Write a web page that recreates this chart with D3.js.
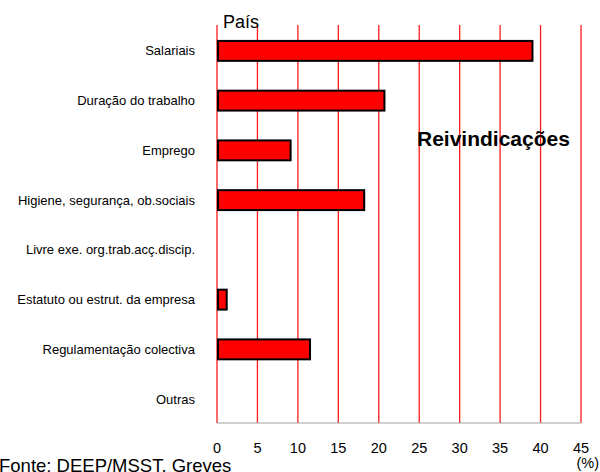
<!DOCTYPE html>
<html>
<head>
<meta charset="utf-8">
<script src="https://cdn.jsdelivr.net/npm/d3@7"></script>
<style>
  body { margin: 0; background: #fff; }
  svg { display: block; font-family: "Liberation Sans", Arial, sans-serif; }
</style>
</head>
<body>
<svg id="chart" width="600" height="472"></svg>
<script>
const categories = [
  "Salariais",
  "Duração do trabalho",
  "Emprego",
  "Higiene, segurança, ob.sociais",
  "Livre exe. org.trab.acç.discip.",
  "Estatuto ou estrut. da empresa",
  "Regulamentação colectiva",
  "Outras"
];
const values = [39.0, 20.7, 9.1, 18.2, 0, 1.2, 11.5, 0];
const xTicks = [0, 5, 10, 15, 20, 25, 30, 35, 40, 45];
const title = "Reivindicações";
const groupLabel = "País";
const unitLabel = "(%)";
const sourceLabel = "Fonte: DEEP/MSST. Greves";

const svg = d3.select("#chart");

const x = d3.scaleLinear().domain([0, 45]).range([217, 581]);
const y = d3.scaleBand().domain(categories).range([26, 424])
  .paddingInner(0.6).paddingOuter(0.3);

const gridTop = 25, gridBottom = 423;

// gridlines
svg.append("g").selectAll("line").data(xTicks).join("line")
  .attr("x1", d => x(d)).attr("x2", d => x(d))
  .attr("y1", gridTop).attr("y2", gridBottom)
  .attr("stroke", "#ff1a1a").attr("stroke-width", 1.3);

// bottom baseline
svg.append("line")
  .attr("x1", x(0)).attr("x2", x(45))
  .attr("y1", gridBottom).attr("y2", gridBottom)
  .attr("stroke", "#a0a0a0").attr("stroke-width", 1.2);

// bars
svg.append("g").selectAll("rect")
  .data(categories.map((c, i) => ({c, v: values[i]})).filter(d => d.v > 0))
  .join("rect")
  .attr("x", x(0) + 1)
  .attr("y", d => y(d.c))
  .attr("width", d => x(d.v) - x(0) - 1)
  .attr("height", y.bandwidth())
  .attr("fill", "#ff0000")
  .attr("stroke", "#000")
  .attr("stroke-width", 2);

// category labels
svg.append("g").selectAll("text").data(categories).join("text")
  .attr("x", 195)
  .attr("y", d => y(d) + y.bandwidth() / 2)
  .attr("dy", "0.35em")
  .attr("text-anchor", "end")
  .attr("font-size", 13)
  .attr("fill", "#000")
  .text(d => d);

// x tick labels
svg.append("g").selectAll("text").data(xTicks).join("text")
  .attr("x", d => x(d))
  .attr("y", 453)
  .attr("text-anchor", "middle")
  .attr("font-size", 14.5)
  .attr("fill", "#000")
  .text(d => d);

svg.append("text").attr("x", 223).attr("y", 28)
  .attr("font-size", 18).text(groupLabel);

svg.append("text").attr("x", 417).attr("y", 146)
  .attr("font-size", 21).attr("font-weight", "bold").text(title);

svg.append("text").attr("x", 599).attr("y", 468)
  .attr("text-anchor", "end").attr("font-size", 14.5).text(unitLabel);

svg.append("text").attr("x", -1).attr("y", 472)
  .attr("font-size", 18.5).text(sourceLabel);
</script>
</body>
</html>
